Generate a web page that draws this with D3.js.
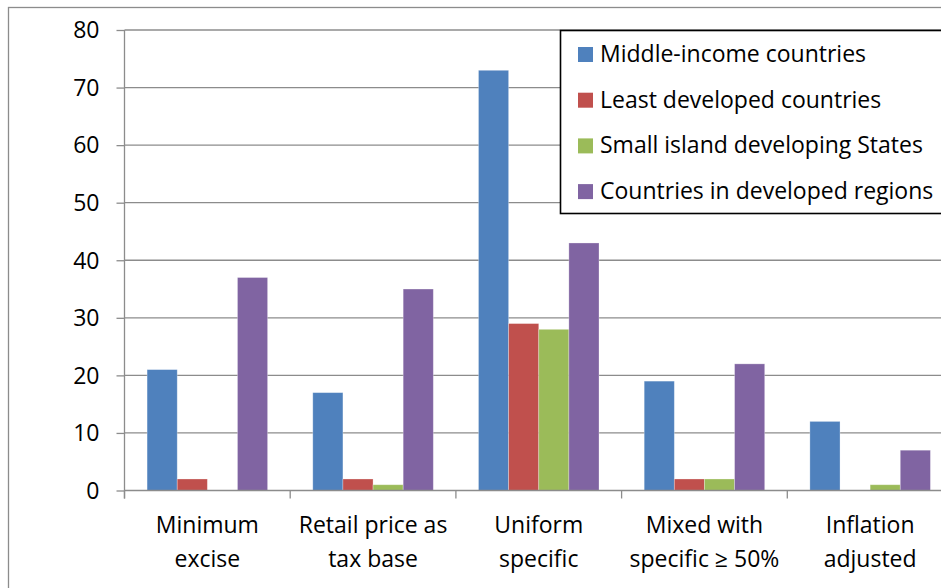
<!DOCTYPE html>
<html>
<head>
<meta charset="utf-8">
<script src="https://cdn.jsdelivr.net/npm/d3@7"></script>
<style>
  html, body { margin: 0; padding: 0; background: #fff; overflow: hidden; }
  svg { display: block; }
  text { font-family: "Open Sans", Lato, sans-serif; fill: #000; }
</style>
</head>
<body>
<svg id="chart" width="941" height="588"></svg>
<script>
const categories = [
  ["Minimum", "excise"],
  ["Retail price as", "tax base"],
  ["Uniform", "specific"],
  ["Mixed with", "specific \u2265 50%"],
  ["Inflation", "adjusted"]
];
const seriesNames = [
  "Middle-income countries",
  "Least developed countries",
  "Small island developing States",
  "Countries in developed regions"
];
const seriesColors = ["#4F81BD", "#C0504D", "#9BBB59", "#8064A2"];
const middleIncome   = [21, 17, 73, 19, 12];
const leastDeveloped = [2, 2, 29, 2, 0];
const smallIsland    = [0, 1, 28, 2, 1];
const developed      = [37, 35, 43, 22, 7];
const yTicks = [0, 10, 20, 30, 40, 50, 60, 70, 80];

const seriesValues = [middleIncome, leastDeveloped, smallIsland, developed];
const FONT = "'Open Sans', Lato, sans-serif";
const FS = 23;

const svg = d3.select("#chart");

// outer chart border
svg.append("rect")
  .attr("x", 8.5).attr("y", 7.5)
  .attr("width", 1000).attr("height", 700)
  .attr("fill", "none").attr("stroke", "#8c8c8c").attr("stroke-width", 1.3);

const plotLeft = 124.5, groupW = 165.7;
const plotRight = plotLeft + groupW * categories.length;
const plotTop = 30, plotBottom = 490.5;

const x0 = d3.scaleBand()
  .domain(d3.range(categories.length))
  .range([plotLeft, plotRight])
  .padding(0);
const x1 = d3.scaleBand()
  .domain(d3.range(seriesNames.length))
  .range([0, x0.bandwidth()])
  .paddingInner(0)
  .paddingOuter(0.75);
const y = d3.scaleLinear().domain([0, 80]).range([plotBottom, plotTop]);

// gridlines
svg.append("g").selectAll("line")
  .data(yTicks.filter(d => d > 0))
  .join("line")
  .attr("x1", plotLeft).attr("x2", plotRight)
  .attr("y1", d => y(d)).attr("y2", d => y(d))
  .attr("stroke", "#8c8c8c").attr("stroke-width", 1.3);

// y axis
const yAxis = d3.axisLeft(y).tickValues(yTicks).tickSize(8).tickPadding(17);
const gy = svg.append("g").attr("transform", `translate(${plotLeft},0)`).call(yAxis);
gy.select(".domain").attr("stroke", "#8c8c8c").attr("stroke-width", 1.3)
  .attr("d", `M0,${plotTop}V${plotBottom + 8}`);
gy.selectAll(".tick line").attr("stroke", "#8c8c8c").attr("stroke-width", 1.3);
gy.selectAll(".tick text")
  .style("font-family", FONT)
  .attr("font-size", FS).attr("fill", "#000").attr("dy", "0.34em");

// bars
const groups = svg.append("g").selectAll("g")
  .data(categories.map((c, i) => i))
  .join("g")
  .attr("transform", i => `translate(${x0(i)},0)`);
groups.selectAll("rect")
  .data(i => seriesValues.map((vals, s) => ({ s, v: vals[i] })))
  .join("rect")
  .attr("x", d => x1(d.s))
  .attr("width", x1.bandwidth())
  .attr("y", d => y(d.v))
  .attr("height", d => y(0) - y(d.v))
  .attr("fill", d => seriesColors[d.s])
  .attr("stroke", d => d.v > 0 ? "rgba(255,255,255,0.35)" : "none")
  .attr("stroke-width", 0.8);

// x axis
const xAxis = d3.axisBottom(x0).tickSize(0).tickFormat("");
const gx = svg.append("g").attr("transform", `translate(0,${plotBottom})`).call(xAxis);
gx.select(".domain").attr("stroke", "#8c8c8c").attr("stroke-width", 1.3)
  .attr("d", `M${plotLeft},0H${plotRight}`);
gx.selectAll(".tick").remove();
// boundary ticks
svg.append("g").selectAll("line")
  .data(d3.range(categories.length + 1))
  .join("line")
  .attr("x1", i => plotLeft + i * x0.step()).attr("x2", i => plotLeft + i * x0.step())
  .attr("y1", plotBottom).attr("y2", plotBottom + 8)
  .attr("stroke", "#8c8c8c").attr("stroke-width", 1.3);

// category labels
const labels = svg.append("g").selectAll("text")
  .data(categories.map((c, i) => ({ c, i })))
  .join("text")
  .attr("text-anchor", "middle")
  .attr("font-size", FS)
  .attr("x", d => x0(d.i) + x0.bandwidth() / 2)
  .attr("y", 533);
labels.selectAll("tspan")
  .data(d => d.c.map((line, k) => ({ line, k, x: x0(d.i) + x0.bandwidth() / 2 })))
  .join("tspan")
  .attr("x", d => d.x)
  .attr("dy", d => d.k === 0 ? 0 : 33.5)
  .text(d => d.line);

// legend
const lg = svg.append("g");
lg.append("rect")
  .attr("x", 560.5).attr("y", 30.5)
  .attr("width", 500).attr("height", 183)
  .attr("fill", "#fff").attr("stroke", "#000").attr("stroke-width", 1.6);
const items = lg.selectAll("g.item")
  .data(seriesNames.map((n, i) => ({ n, i })))
  .join("g").attr("class", "item")
  .attr("transform", d => `translate(578,${47 + d.i * 45.7})`);
items.append("rect")
  .attr("width", 15).attr("height", 15)
  .attr("fill", d => seriesColors[d.i]);
items.append("text")
  .attr("x", 22).attr("y", 15)
  .attr("font-size", FS)
  .text(d => d.n);
</script>
</body>
</html>
